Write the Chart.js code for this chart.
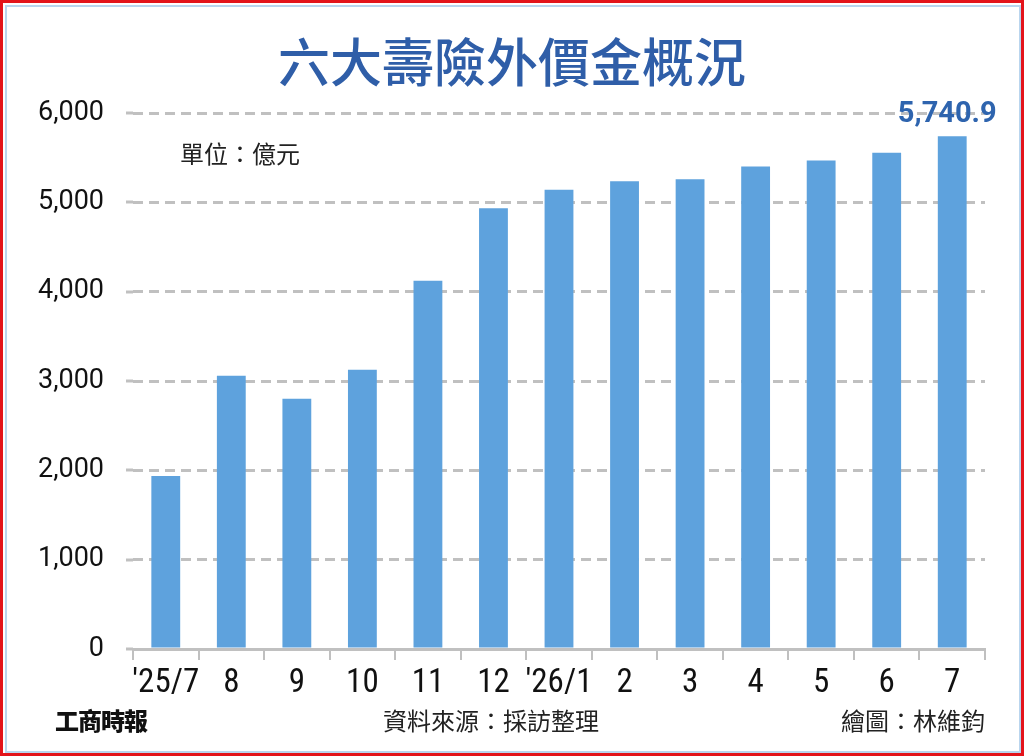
<!DOCTYPE html>
<html>
<head>
<meta charset="utf-8">
<script src="https://cdn.jsdelivr.net/npm/chart.js@4"></script>
<style>
  html,body{margin:0;padding:0;background:#fff;}
  #wrap{position:relative;width:1024px;height:756px;overflow:hidden;background:#fff;}
  #c{position:absolute;left:0;top:0;}
  .frame-red{position:absolute;left:0;top:0;width:1018px;height:750px;border:3px solid #E3141B;pointer-events:none;}
  .frame-blue{position:absolute;left:5px;top:5px;width:1012px;height:744px;border:2px solid #B9D5EE;pointer-events:none;}
  .txt{position:absolute;font-family:"Noto Sans CJK TC","Noto Sans CJK SC",sans-serif;white-space:nowrap;line-height:1;}
  #title{left:0;width:1024px;top:34px;text-align:center;font-size:52px;color:#2F5EA8;font-weight:500;}
  #unit{left:180px;top:141px;font-size:24px;color:#222;}
  #logo{left:55px;top:708px;font-size:24px;color:#111;font-weight:900;letter-spacing:-1px;}
  #src{left:383px;top:708px;font-size:24px;color:#222;}
  #author{right:39px;top:708px;font-size:24px;color:#222;}
</style>
</head>
<body>
<div id="wrap">
  <canvas id="c" width="1024" height="756"></canvas>
  <div class="txt" id="title">六大壽險外價金概況</div>
  <div class="txt" id="unit">單位：億元</div>
  <div class="txt" id="logo">工商時報</div>
  <div class="txt" id="src">資料來源：採訪整理</div>
  <div class="txt" id="author">繪圖：林維鈞</div>
  <div class="frame-red"></div>
  <div class="frame-blue"></div>
</div>
<script>
const categories = ["'25/7","8","9","10","11","12","'26/1","2","3","4","5","6","7"];
const values = [1936, 3059, 2802, 3126, 4122, 4935, 5141, 5237, 5259, 5401, 5468, 5554, 5740.9];
const yTicks = [0, 1000, 2000, 3000, 4000, 5000, 6000];
const highlightIndex = 12;

const barColor = '#5EA2DD';
const gridColor = '#C0C0C0';

// extend the x axis line and y gridlines slightly to the left of the first category
const leftExtend = {
  id: 'leftExtend',
  beforeDatasetsDraw(chart) {
    const {ctx, chartArea, scales} = chart;
    ctx.save();
    ctx.strokeStyle = gridColor;
    ctx.lineWidth = 3;
    ctx.setLineDash([7, 6]);
    yTicks.forEach(v => {
      if (v === 0) return;
      const y = Math.round(scales.y.getPixelForValue(v));
      ctx.beginPath(); ctx.moveTo(chartArea.left - 7, y); ctx.lineTo(chartArea.left, y); ctx.stroke();
    });
    ctx.setLineDash([]);
    const y0 = scales.y.getPixelForValue(0);
    ctx.beginPath(); ctx.moveTo(chartArea.left - 7, y0); ctx.lineTo(chartArea.left, y0); ctx.stroke();
    ctx.restore();
  }
};

const lastLabel = {
  id: 'lastLabel',
  afterDatasetsDraw(chart) {
    const meta = chart.getDatasetMeta(0);
    const el = meta.data[highlightIndex];
    if (!el) return;
    const ctx = chart.ctx;
    ctx.save();
    ctx.font = 'bold 29px Roboto, "DejaVu Sans", sans-serif';
    ctx.fillStyle = '#2E64AE';
    ctx.textAlign = 'center';
    ctx.textBaseline = 'alphabetic';
    const txt = values[highlightIndex].toLocaleString('en-US', {minimumFractionDigits: 1, maximumFractionDigits: 1});
    ctx.fillText(txt, el.x - 5, el.y - 14);
    ctx.restore();
  }
};

new Chart(document.getElementById('c'), {
  type: 'bar',
  data: {
    labels: categories,
    datasets: [{
      data: values,
      backgroundColor: barColor,
      borderWidth: 0,
      categoryPercentage: 1,
      barPercentage: 0.44
    }]
  },
  options: {
    responsive: false,
    animation: false,
    devicePixelRatio: 1,
    layout: { padding: { left: 10, right: 39, top: 113, bottom: 40 } },
    plugins: { legend: { display: false }, tooltip: { enabled: false } },
    scales: {
      x: {
        offset: true,
        grid: { display: true, drawOnChartArea: false, drawTicks: true, tickLength: 11, offset: true, color: gridColor, lineWidth: 2 },
        border: { display: true, color: gridColor, width: 3 },
        ticks: { color: '#111', padding: 4, maxRotation: 0, autoSkip: false,
                 font: { family: '"Liberation Sans Narrow", "Roboto Condensed", Roboto, sans-serif', size: 33 } },
        afterFit(scale) { scale.height = 67; }
      },
      y: {
        min: 0, max: 6000,
        afterBuildTicks(scale) { scale.ticks = yTicks.map(v => ({ value: v })); },
        grid: { color: gridColor, lineWidth: 3, drawTicks: false },
        border: { display: false, dash: [10, 6] },
        ticks: { color: '#111', padding: 29,
                 font: { family: 'Roboto, "DejaVu Sans", sans-serif', size: 27 },
                 callback: v => v.toLocaleString('en-US') },
        afterFit(scale) { scale.width = 123; }
      }
    }
  },
  plugins: [leftExtend, lastLabel]
});
</script>
</body>
</html>
